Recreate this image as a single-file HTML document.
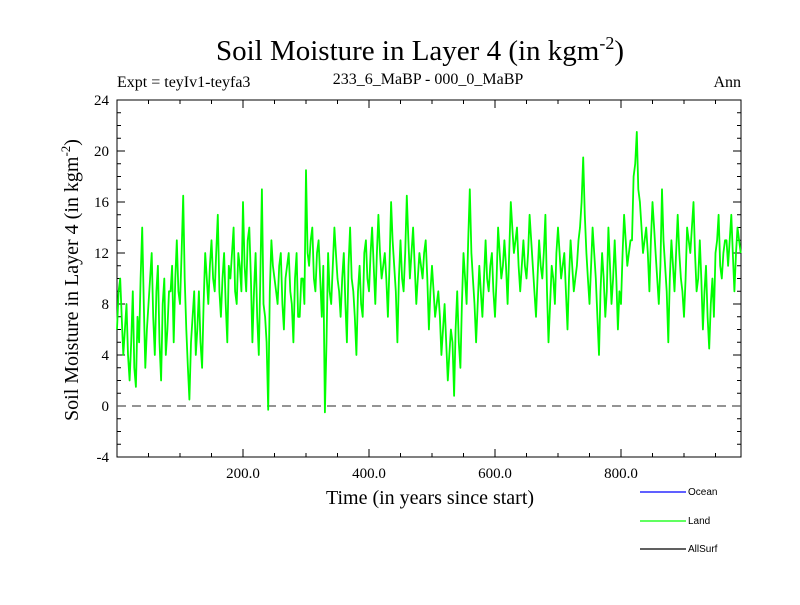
<!DOCTYPE html>
<html><head><meta charset="utf-8"><style>
body{margin:0;background:#fff}
svg text{font-family:"Liberation Serif",serif}
</style></head><body>
<svg id="c" width="800" height="600" xmlns="http://www.w3.org/2000/svg">
<text x="420" y="60" font-size="29" text-anchor="middle">Soil Moisture in Layer 4 (in kgm<tspan dy="-11" font-size="18">-2</tspan><tspan dy="11">)</tspan></text>
<text x="117" y="87" font-size="16">Expt = teyIv1-teyfa3</text>
<text x="428" y="84" font-size="16" text-anchor="middle">233_6_MaBP - 000_0_MaBP</text>
<text x="741" y="87" font-size="16" text-anchor="end">Ann</text>
<text transform="translate(78,280) rotate(-90)" font-size="20" text-anchor="middle">Soil Moisture in Layer 4 (in kgm<tspan dy="-8" font-size="13">-2</tspan><tspan dy="8">)</tspan></text>
<text x="430" y="504" font-size="20" text-anchor="middle">Time (in years since start)</text>
<g id="axes"></g>
<g id="series"></g>
<g font-size="10">
<line x1="640" y1="492" x2="686" y2="492" stroke="#0000ff" stroke-width="1.2"/>
<text x="688" y="495" style="font-family:'Liberation Sans',sans-serif" font-size="10">Ocean</text>
<line x1="640" y1="521" x2="686" y2="521" stroke="#00ff00" stroke-width="1.2"/>
<text x="688" y="524" style="font-family:'Liberation Sans',sans-serif" font-size="10">Land</text>
<line x1="640" y1="549" x2="686" y2="549" stroke="#000" stroke-width="1.2"/>
<text x="688" y="552" style="font-family:'Liberation Sans',sans-serif" font-size="10">AllSurf</text>
</g>
</svg>
<script>
const years = [];
for (let i = 0; i <= 198; i++) years.push(i * 5);
const landValues = [6,10,4,8,2,9,1.5,5,14,3,
8,12,4,11,2,10,6,9,5,13,
8,16.5,6,0.5,7,4,9,3,12,8,
13,9,15,7,12,5,10,14,8,11,
16,9,14,5,12,4,17,7,-0.3,13,
10,8,12,6,11,9,5,12,7,10,
18.5,11,14,9,13,7,-0.5,12,8,14,
10,7,12,5,14,9,4,11,7,13,
9,14,8,15,10,12,7,16,11,5,
13,9,16.5,10,14,8,12,10,13,6,
11,7,9,4,8,2,6,0.8,9,3,
12,8,17,10,5,11,7,13,9,12,
7,14,10,13,8,16,12,14,9,13,
10,15,11,7,13,10,15,5,11,8,
14,10,12,6,13,9,11,14,19.5,12,
8,14,10,4,12,7,14,8,13,6,
8,15,11,13,18,21.5,16,12,14,9,
16,12,8,17,11,5,13,9,15,10,
7,14,12,16,9,13,6,11,4.5,10,
12,15,10,13,11,15,9,14,12];
const midYears = [];
for (let i = 0; i < 198; i++) midYears.push(i * 5 + 2.5);
const midValues = [9,7,6,4,5,3,7,10,8,6,
10,7,9,5,8,4,9,11,10,9,
12,10,3,5,9,6,5,8,10,11,
10,12,9,10,8,11,12,9,12,9,
11,13,10,9,7,10,8,5,9,11,
9,11,8,10,12,8,10,7,10,8,
12,13,10,12,10,11,5,9,11,12,
9,10,8,11,10,7,9,8,12,10,
12,11,12,12,11,10,11,13,9,10,
10,12,13,12,11,10,11,12,10,9,
9,8,7,6,5,4,5,6,5,8,
10,13,12,8,8,9,10,10,11,9,
10,12,11,11,12,14,13,11,11,11,
12,13,9,10,11,12,9,8,10,12,
12,11,9,10,11,10,13,16,15,10,
11,12,7,9,10,9,11,10,10,9,
12,13,12,13,19,17,14,13,12,13,
14,10,11,13,9,10,11,12,12,9,
10,13,14,12,10,10,9,7,8,7,
13,11,12,13,13,12,12,13];
const yTicks = [-4,0,4,8,12,16,20,24];
const xTicks = [200,400,600,800];
const xTickLabels = ["200.0","400.0","600.0","800.0"];
const L=117,R=741,T=100,B=457;
const xs = v => L + v * 0.63;
const ys = v => B - (v + 4) * (B - T) / 28;
const NS="http://www.w3.org/2000/svg";
const ax=document.getElementById('axes'), sr=document.getElementById('series');
function mk(tag,attrs,parent){const e=document.createElementNS(NS,tag);for(const k in attrs)e.setAttribute(k,attrs[k]);parent.appendChild(e);return e;}
const frame=mk('rect',{x:L,y:T,width:R-L,height:B-T,fill:'none',stroke:'#000','stroke-width':1},ax);


for(let v=-4;v<=24;v++){const len=(v%4===0)?8:4;const y=ys(v);
 const t1=mk('line',{x1:L,x2:L+len,y1:y,y2:y,stroke:'#000'},ax);
 
 
 const t2=mk('line',{x1:R-len,x2:R,y1:y,y2:y,stroke:'#000'},ax);
 
 }
yTicks.forEach(v=>{const t=mk('text',{x:L-8,y:ys(v)+5,'font-size':15,'text-anchor':'end'},ax);t.textContent=v;
 
 });
for(let v=50;v<1000;v+=50){const len=(v%200===0)?8:4;const x=xs(v);if(x>R)break;
 const t1=mk('line',{x1:x,x2:x,y1:B,y2:B-len,stroke:'#000'},ax);
 
 
 const t2=mk('line',{x1:x,x2:x,y1:T,y2:T+len,stroke:'#000'},ax);
 
 }
xTicks.forEach((v,i)=>{const t=mk('text',{x:xs(v),y:B+21,'font-size':15,'text-anchor':'middle'},ax);t.textContent=xTickLabels[i];
 
 });
const z=mk('line',{x1:L,x2:R,y1:ys(0),y2:ys(0),stroke:'#555','stroke-dasharray':'9,6','stroke-width':1.2},ax);


const all=[];
years.forEach((y,i)=>all.push([y,landValues[i]]));
midYears.forEach((y,i)=>all.push([y,midValues[i]]));
all.sort((a,b)=>a[0]-b[0]);
const pts=all.map(p=>xs(p[0]).toFixed(1)+','+ys(p[1]).toFixed(1)).join(' ');
const pl=mk('polyline',{points:pts,fill:'none',stroke:'#00ff00','stroke-width':1.8,'stroke-linejoin':'round'},sr);


</script>
</body></html>
